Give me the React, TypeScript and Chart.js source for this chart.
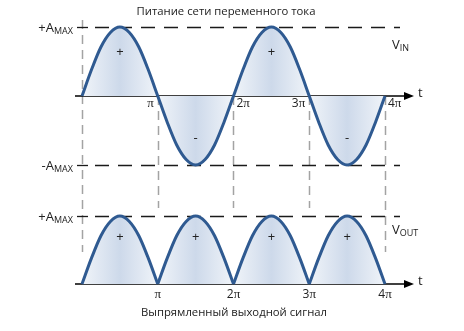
import React, { useEffect, useRef } from "react";
import { Chart, registerables } from "chart.js";

Chart.register(...registerables);

// Time in units of π
const tPi = [
  0, 0.125, 0.25, 0.375, 0.5, 0.625, 0.75, 0.875, 1,
  1.125, 1.25, 1.375, 1.5, 1.625, 1.75, 1.875, 2,
  2.125, 2.25, 2.375, 2.5, 2.625, 2.75, 2.875, 3,
  3.125, 3.25, 3.375, 3.5, 3.625, 3.75, 3.875, 4,
];
// Input AC signal (relative to AMAX)
const vin = [
  0, 0.38, 0.71, 0.92, 1, 0.92, 0.71, 0.38, 0,
  -0.38, -0.71, -0.92, -1, -0.92, -0.71, -0.38, 0,
  0.38, 0.71, 0.92, 1, 0.92, 0.71, 0.38, 0,
  -0.38, -0.71, -0.92, -1, -0.92, -0.71, -0.38, 0,
];
// Rectified output signal (relative to AMAX)
const vout = [
  0, 0.38, 0.71, 0.92, 1, 0.92, 0.71, 0.38, 0,
  0.38, 0.71, 0.92, 1, 0.92, 0.71, 0.38, 0,
  0.38, 0.71, 0.92, 1, 0.92, 0.71, 0.38, 0,
  0.38, 0.71, 0.92, 1, 0.92, 0.71, 0.38, 0,
];
const tickValues = [1, 2, 3, 4];
const tickLabels = ["π", "2π", "3π", "4π"];
const topSignX = [0.5, 1.5, 2.5, 3.5];
const topSignY = [0.64, -0.61, 0.64, -0.61];
const topSignText = ["+", "-", "+", "-"];
const botSignX = [0.5, 1.5, 2.5, 3.5];
const botSignY = [0.69, 0.69, 0.69, 0.69];
const botSignText = ["+", "+", "+", "+"];
const topTitle = "Питание сети переменного тока";
const bottomTitle = "Выпрямленный выходной сигнал";

const LINE = "#2f5a91";
const EDGE = "#f0f4f9";
const CENTER = "#cdd9ea";
const SANS = "'Open Sans', 'Noto Sans', sans-serif";

function fillGradient(chart: any) {
  const { ctx, chartArea, scales } = chart;
  if (!chartArea) return EDGE;
  const x0 = scales.x.getPixelForValue(0);
  const x4 = scales.x.getPixelForValue(4);
  const g = ctx.createLinearGradient(x0, 0, x4, 0);
  for (let k = 0; k <= 8; k++) g.addColorStop(k / 8, k % 2 ? CENTER : EDGE);
  return g;
}

function drawSub(ctx: CanvasRenderingContext2D, x: number, y: number, main: string, sub: string, align: "left" | "right") {
  ctx.font = `13px ${SANS}`;
  const w1 = ctx.measureText(main).width;
  ctx.font = `9px ${SANS}`;
  const w2 = ctx.measureText(sub).width;
  const start = align === "right" ? x - w1 - w2 : x;
  ctx.textAlign = "left";
  ctx.textBaseline = "alphabetic";
  ctx.font = `13px ${SANS}`;
  ctx.fillText(main, start, y);
  ctx.font = `9px ${SANS}`;
  ctx.fillText(sub, start + w1, y + 2);
}

function drawPiLabel(ctx: CanvasRenderingContext2D, x: number, y: number, label: string, align: "left" | "right" | "center") {
  const num = label.replace("π", "");
  ctx.font = `12px ${SANS}`;
  const w1 = ctx.measureText(num).width;
  ctx.font = `13px 'Liberation Serif', serif`;
  const w2 = ctx.measureText("π").width;
  const total = w1 + w2;
  let start = x;
  if (align === "right") start = x - total;
  if (align === "center") start = x - total / 2;
  ctx.textAlign = "left";
  ctx.textBaseline = "middle";
  ctx.font = `12px ${SANS}`;
  ctx.fillText(num, start, y);
  ctx.font = `13px 'Liberation Serif', serif`;
  ctx.fillText("π", start + w1, y);
}

const diagramPlugin = {
  id: "diagram",
  beforeDatasetsDraw(chart: any) {
    const { ctx, scales } = chart;
    const xs = scales.x, y = scales.y, y2 = scales.y2;
    ctx.save();
    // vertical gray dashed guides
    ctx.strokeStyle = "#a3a3a3";
    ctx.lineWidth = 1.5;
    ctx.setLineDash([9, 6]);
    const guides: [number, number, number][] = [
      [0, y.getPixelForValue(1.1), 252],
      [1, y.getPixelForValue(0), 208],
      [2, y.getPixelForValue(0), 208],
      [3, y.getPixelForValue(0), 208],
      [4, y.getPixelForValue(0), 252],
    ];
    for (const [v, a, b] of guides) {
      const px = Math.round(xs.getPixelForValue(v)) + 0.5;
      ctx.beginPath();
      ctx.moveTo(px, a);
      ctx.lineTo(px, b);
      ctx.stroke();
    }
    // horizontal black dashed AMAX lines
    const x0 = xs.getPixelForValue(0);
    const xEnd = 400;
    const hl = [y.getPixelForValue(1), y.getPixelForValue(-1), y2.getPixelForValue(1)];
    ctx.strokeStyle = "#1a1a1a";
    ctx.lineWidth = 1.3;
    for (const py of hl) {
      const yy = Math.round(py) + 0.5;
      ctx.setLineDash([]);
      ctx.beginPath();
      ctx.moveTo(x0 - 5, yy);
      ctx.lineTo(x0 + 6, yy);
      ctx.stroke();
      ctx.setLineDash([14, 9]);
      ctx.beginPath();
      ctx.moveTo(x0 + 13, yy);
      ctx.lineTo(xEnd, yy);
      ctx.stroke();
    }
    // axes with arrows
    ctx.setLineDash([]);
    ctx.strokeStyle = "#000";
    ctx.fillStyle = "#000";
    ctx.lineWidth = 1.5;
    for (const py of [y.getPixelForValue(0), y2.getPixelForValue(0)]) {
      const yy = Math.round(py);
      ctx.beginPath();
      ctx.moveTo(x0 - 7, yy);
      ctx.lineTo(408, yy);
      ctx.stroke();
      ctx.beginPath();
      ctx.moveTo(404, yy - 4);
      ctx.lineTo(414, yy);
      ctx.lineTo(404, yy + 4);
      ctx.closePath();
      ctx.fill();
    }
    ctx.restore();
  },
  afterDatasetsDraw(chart: any) {
    const { ctx, scales } = chart;
    const xs = scales.x, y = scales.y, y2 = scales.y2;
    ctx.save();
    ctx.fillStyle = "#222";
    // titles
    ctx.font = `11.3px ${SANS}`;
    ctx.textAlign = "center";
    ctx.textBaseline = "middle";
    ctx.fillText(topTitle, 226, 12);
    ctx.fillText(bottomTitle, 234, 313);
    // t labels
    ctx.font = `13px ${SANS}`;
    ctx.textAlign = "left";
    ctx.fillText("t", 418, y.getPixelForValue(0) - 3);
    ctx.fillText("t", 418, y2.getPixelForValue(0) - 3);
    // AMAX labels
    const x0 = xs.getPixelForValue(0);
    drawSub(ctx, x0 - 9, y.getPixelForValue(1) + 5, "+A", "MAX", "right");
    drawSub(ctx, x0 - 9, y.getPixelForValue(-1) + 5, "-A", "MAX", "right");
    drawSub(ctx, x0 - 9, y2.getPixelForValue(1) + 5, "+A", "MAX", "right");
    drawSub(ctx, 392, 49, "V", "IN", "left");
    drawSub(ctx, 392, y2.getPixelForValue(1) + 18, "V", "OUT", "left");
    // tick labels top
    const yTop = y.getPixelForValue(0) + 8;
    tickValues.forEach((v, i) => {
      const px = xs.getPixelForValue(v);
      const right = i % 2 === 0;
      drawPiLabel(ctx, right ? px - 4 : px + 3, yTop, tickLabels[i], right ? "right" : "left");
    });
    // tick labels bottom
    const yBot = y2.getPixelForValue(0) + 11;
    tickValues.forEach((v, i) => {
      drawPiLabel(ctx, xs.getPixelForValue(v), yBot, tickLabels[i], "center");
    });
    // signs
    ctx.font = `13px ${SANS}`;
    ctx.textAlign = "center";
    ctx.textBaseline = "middle";
    topSignX.forEach((v, i) => {
      ctx.fillText(topSignText[i], xs.getPixelForValue(v), y.getPixelForValue(topSignY[i]));
    });
    botSignX.forEach((v, i) => {
      ctx.fillText(botSignText[i], xs.getPixelForValue(v), y2.getPixelForValue(botSignY[i]));
    });
    ctx.restore();
  },
};

export default function App() {
  const ref = useRef<HTMLCanvasElement | null>(null);
  useEffect(() => {
    if (!ref.current) return;
    const common = {
      borderColor: LINE,
      borderWidth: 3,
      pointRadius: 0,
      fill: "origin",
      cubicInterpolationMode: "monotone",
      backgroundColor: (c: any) => fillGradient(c.chart),
    };
    const datasets: any[] = [
      { ...common, yAxisID: "y", data: tPi.map((t, i) => ({ x: t, y: vin[i] })) },
    ];
    for (let k = 0; k < 4; k++) {
      const pts = [];
      for (let i = k * 8; i <= k * 8 + 8; i++) pts.push({ x: tPi[i], y: vout[i] });
      datasets.push({ ...common, yAxisID: "y2", data: pts });
    }
    const chart = new Chart(ref.current, {
      type: "line",
      data: { datasets },
      options: {
        responsive: false,
        animation: false,
        events: [],
        layout: { padding: 0 },
        plugins: { legend: { display: false }, tooltip: { enabled: false } },
        scales: {
          x: { type: "linear", display: false, min: -82 / 75.75, max: (464 - 82) / 75.75 },
          y: { display: false, min: -(331 - 96) / 69, max: 96 / 69 },
          y2: { display: false, min: -(331 - 284) / 68, max: 284 / 68 },
        },
      },
      plugins: [diagramPlugin],
    } as any);
    return () => chart.destroy();
  }, []);
  return (
    <div style={{ position: "absolute", left: 0, top: 0, width: 464, height: 331, background: "#fff" }}>
      <canvas ref={ref} width={464} height={331} style={{ width: 464, height: 331 }} />
    </div>
  );
}
